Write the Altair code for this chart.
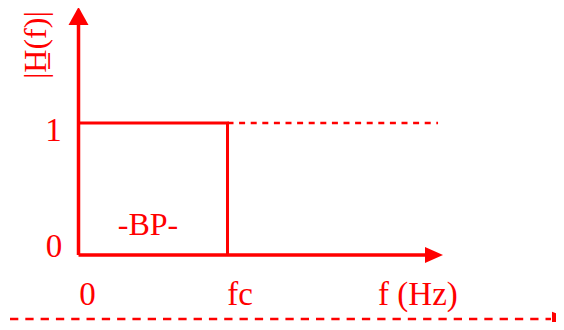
import altair as alt
import pandas as pd

# ---- data (frequency in units of fc, gain normalised) ----
band_f = [0, 1, 1]
band_gain = [1, 1, 0]
y_labels = ["0", "1"]
x_labels = ["0", "fc", "f (Hz)"]
y_title = "|H\u0332(f)|"
band_label = "-BP-"

RED = "#ff0000"
FONT = "Liberation Serif"

# ---- layout (scale domains chosen so the drawing sits like the reference) ----
xs = alt.Scale(domain=[-0.4732, 3.2047], nice=False, zero=False)
ys = alt.Scale(domain=[-0.5076, 1.8712], nice=False, zero=False)

def X(f="x"):
    return alt.X(f"{f}:Q", scale=xs, axis=None)

def Y(f="y"):
    return alt.Y(f"{f}:Q", scale=ys, axis=None)

# axes
axes_df = pd.DataFrame({"x": [0, 0], "x2": [0, 2.38], "y": [0, 0], "y2": [1.75, 0]})
axes = alt.Chart(axes_df).mark_rule(color=RED, strokeWidth=3.5).encode(
    x=X(), x2="x2:Q", y=Y(), y2="y2:Q")

# response
resp_df = pd.DataFrame({"x": band_f, "y": band_gain, "o": range(len(band_f))})
resp = alt.Chart(resp_df).mark_line(color=RED, strokeWidth=3).encode(
    x=X(), y=Y(), order="o:Q")

# dashed continuation at gain 1
ref_df = pd.DataFrame({"x": [band_f[1]], "x2": [2.413], "y": [band_gain[0]]})
ref = alt.Chart(ref_df).mark_rule(color=RED, strokeWidth=2.5, strokeDash=[6, 5.6]).encode(
    x=X(), x2="x2:Q", y=Y())

# bottom dashed arrow line
bot_df = pd.DataFrame({"x": [-0.4597], "x2": [3.171], "y": [-0.4848]})
bot = alt.Chart(bot_df).mark_rule(color=RED, strokeWidth=2.5, strokeDash=[8.3, 7]).encode(
    x=X(), x2="x2:Q", y=Y())

UP = "M0,-1L1,0.8L-1,0.8Z"
RIGHT = "M1,0L-0.8,-0.8L-0.8,0.8Z"
RIGHT2 = "M1,0L-1,-0.85L-1,0.85Z"

def arrow(x, y, shape, size):
    return alt.Chart(pd.DataFrame({"x": [x], "y": [y]})).mark_point(
        shape=shape, filled=True, color=RED, opacity=1, size=size, strokeWidth=0
    ).encode(x=X(), y=Y())

arrows = [
    arrow(0, 1.803, UP, 400),
    arrow(2.379, 0, RIGHT, 400),
    arrow(3.236, -0.4848, RIGHT2, 300),
]

# texts
ylab_df = pd.DataFrame({"x": [-0.164, -0.168], "y": [-0.0152, 0.8636], "t": y_labels})
ylab = alt.Chart(ylab_df).mark_text(font=FONT, fontSize=33, color=RED, align="center",
                                    baseline="alphabetic").encode(x=X(), y=Y(), text="t:N")

xlab_df = pd.DataFrame({"x": [0.0604, 1.084, 2.278], "y": [-0.379] * 3, "t": x_labels})
xlab = alt.Chart(xlab_df).mark_text(font=FONT, fontSize=33, color=RED, align="center",
                                    baseline="alphabetic").encode(x=X(), y=Y(), text="t:N")

bp_df = pd.DataFrame({"x": [0.466], "y": [0.1515], "t": [band_label]})
bp = alt.Chart(bp_df).mark_text(font=FONT, fontSize=32, color=RED, align="center",
                                baseline="alphabetic").encode(x=X(), y=Y(), text="t:N")

tt_df = pd.DataFrame({"x": [-0.218], "y": [1.59], "t": [y_title]})
tt = alt.Chart(tt_df).mark_text(font=FONT, fontSize=32, color=RED, align="center",
                                baseline="alphabetic", angle=270).encode(x=X(), y=Y(), text="t:N")

chart = alt.layer(axes, resp, ref, bot, *arrows, ylab, xlab, bp, tt).properties(
    width=548, height=314, padding=0, autosize=alt.AutoSizeParams(type="none")
).configure(background="white").configure_view(stroke=None)

chart.save("out.html", embed_options={"renderer": "svg", "actions": False})
